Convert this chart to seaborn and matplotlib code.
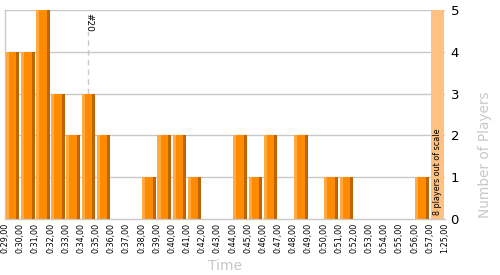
import matplotlib
matplotlib.use("Agg")
import matplotlib.pyplot as plt
import seaborn as sns
import pandas as pd
import numpy as np

# bin edge labels (30 edges -> 29 bins)
edge_labels = ["0:29,00", "0:30,00", "0:31,00", "0:32,00", "0:33,00", "0:34,00",
               "0:35,00", "0:36,00", "0:37,00", "0:38,00", "0:39,00", "0:40,00",
               "0:41,00", "0:42,00", "0:43,00", "0:44,00", "0:45,00", "0:46,00",
               "0:47,00", "0:48,00", "0:49,00", "0:50,00", "0:51,00", "0:52,00",
               "0:53,00", "0:54,00", "0:55,00", "0:56,00", "0:57,00", "1:25,00"]
players = [4, 4, 5, 3, 2, 3, 2, 0, 0, 1, 2, 2, 1, 0, 0, 2, 1, 2, 0, 2, 0, 1, 1,
           0, 0, 0, 0, 1, 8]
y_max = 5
y_ticks = [0, 1, 2, 3, 4, 5]
marker_label = "#20"
marker_bin = 5
overflow_text = "8 players out of scale"

sns.set_theme(style="white")
plt.rcParams['font.family'] = ['DejaVu Sans']

bins = edge_labels[:-1]
shown = [min(v, y_max) for v in players]
out_scale = [v > y_max for v in players]
df = pd.DataFrame({"bin": bins, "shown": shown})

fig = plt.figure(figsize=(5, 2.75), dpi=100)
ax = fig.add_axes([5 / 500, 1 - 219 / 275, 440 / 500, 209 / 275])

main_col = "#ff8c00"
light_col = "#ffaa40"
dark_col = "#c06400"
over_col = "#ffc080"
palette = [over_col if o else main_col for o in out_scale]

ax.set_axisbelow(True)
for t in y_ticks[1:]:
    ax.axhline(t, color="#c8c8c8", lw=1.0, zorder=0)

sns.barplot(data=df, x="bin", y="shown", hue="bin", palette=palette,
            legend=False, width=0.9, saturation=1, linewidth=0, ax=ax, zorder=2)

# light and dark edge strips on the regular bars
xs = np.arange(len(bins))
reg_h = np.array([0 if o else s for s, o in zip(shown, out_scale)])
strip = 0.2
ax.bar(xs - 0.45 + strip / 2, reg_h, width=strip, color=light_col, lw=0, zorder=3)
ax.bar(xs + 0.45 - strip / 2, reg_h, width=strip, color=dark_col, lw=0, zorder=3)

ax.set_xlim(-0.5, len(bins) - 0.5)
ax.set_ylim(0, y_max)

ax.set_xticks(np.arange(len(edge_labels)) - 0.5)
ax.set_xticklabels(edge_labels, rotation=90, fontsize=5.8, color="black")
ax.tick_params(axis="x", length=0, pad=3)

ax.yaxis.tick_right()
ax.set_yticks(y_ticks)
ax.set_yticklabels([str(t) for t in y_ticks], fontsize=9.5, color="black")
ax.tick_params(axis="y", length=0, pad=4)

ax.set_xlabel("Time", fontsize=10, color="#c8c8c8")
ax.xaxis.set_label_coords(0.5, -0.225)
ax.xaxis.label.set_va("center")
ax.set_ylabel("Number of Players", fontsize=9.8, color="#c8c8c8", rotation=90)
ax.yaxis.set_label_position("right")
ax.yaxis.set_label_coords(1.09, 0.31)
ax.yaxis.label.set_va("center")
ax.yaxis.label.set_ha("center")

for side in ["top", "right"]:
    ax.spines[side].set_visible(False)
for side in ["left", "bottom"]:
    ax.spines[side].set_color("#c8c8c8")
    ax.spines[side].set_linewidth(1.0)

# marker for #20
ax.plot([marker_bin, marker_bin], [players[marker_bin], y_max * 0.9],
        color="#c8c8c8", lw=1, ls=(0, (4, 3)), zorder=1)
ax.text(marker_bin, y_max * 0.985, marker_label, rotation=270, fontsize=6.5,
        ha="center", va="top", color="black", zorder=4)

# text in out-of-scale bar
for i, o in enumerate(out_scale):
    if o:
        ax.text(i, 0.1, overflow_text, rotation=90, fontsize=5.8,
                ha="center", va="bottom", color="black", zorder=4)

fig.savefig("out.png", dpi=100)
